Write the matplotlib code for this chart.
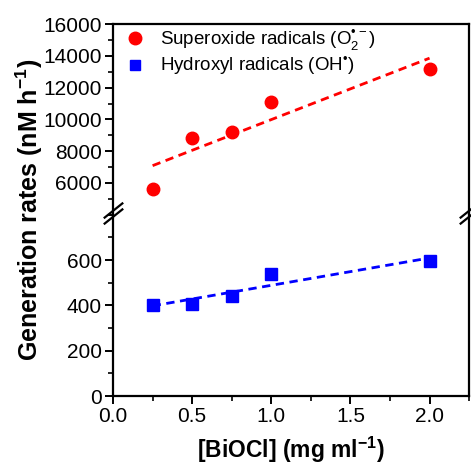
import numpy as np
import matplotlib
matplotlib.use("Agg")
import matplotlib.pyplot as plt
from matplotlib.ticker import MultipleLocator

plt.rcParams['font.family'] = ['Liberation Sans', 'DejaVu Sans']
plt.rcParams['mathtext.fontset'] = 'custom'
plt.rcParams['mathtext.rm'] = 'Liberation Sans'
plt.rcParams['mathtext.bf'] = 'Liberation Sans:bold'

# data
conc = [0.25, 0.5, 0.75, 1.0, 2.0]
superoxide = [5620, 8850, 9230, 11110, 13210]
hydroxyl = [400, 405, 442, 540, 595]
labels = ["Superoxide radicals (O$_2^{\u2022\u2212}$)", "Hydroxyl radicals (OH$^{\u2022}$)"]

fig = plt.figure(figsize=(4.71, 4.66), dpi=100)
gs = fig.add_gridspec(2, 1, height_ratios=[191, 182], hspace=0.0,
                      left=0.240, right=0.996, top=0.948, bottom=0.150)
ax_top = fig.add_subplot(gs[0])
ax_bot = fig.add_subplot(gs[1], sharex=ax_top)

xfit = np.array([0.25, 2.0])
p1 = np.polyfit(conc, superoxide, 1)
p2 = np.polyfit(conc, hydroxyl, 1)

ax_top.plot(conc, superoxide, 'o', color='#ff0000', ms=9, label=labels[0])
ax_top.plot(xfit, np.polyval(p1, xfit), '--', color='#ff0000', lw=2, dashes=(3, 2))
ax_top.plot([], [], 's', color='#0000ff', ms=7, label=labels[1])
ax_bot.plot(conc, hydroxyl, 's', color='#0000ff', ms=8)
ax_bot.plot(xfit, np.polyval(p2, xfit), '--', color='#0000ff', lw=2, dashes=(3, 2))

ax_top.set_ylim(4000, 16000)
ax_bot.set_ylim(0, 800)
ax_bot.set_xlim(0, 2.25)

ax_top.yaxis.set_minor_locator(MultipleLocator(1000))
ax_top.set_yticks([6000, 8000, 10000, 12000, 14000, 16000])
ax_bot.set_yticks([0, 200, 400, 600])
ax_bot.yaxis.set_minor_locator(MultipleLocator(100))
ax_bot.xaxis.set_major_locator(MultipleLocator(0.5))
ax_bot.xaxis.set_minor_locator(MultipleLocator(0.25))
ax_bot.xaxis.set_major_formatter(plt.FormatStrFormatter('%.1f'))

for ax in (ax_top, ax_bot):
    for s in ax.spines.values():
        s.set_linewidth(1.6)
    ax.tick_params(which='major', direction='out', length=6, width=1.4, labelsize=15,
                   top=False, right=False, pad=2)
    ax.tick_params(which='minor', direction='out', length=3.5, width=1.2,
                   top=False, right=False)

ax_top.spines['bottom'].set_visible(False)
ax_bot.spines['top'].set_visible(False)
ax_top.tick_params(axis='x', which='both', bottom=False, labelbottom=False)

# break marks on both sides
d = 0.8
kw = dict(marker=[(-1, -d), (1, d)], markersize=14, linestyle='none',
          color='k', mec='k', mew=1.6, clip_on=False)
ax_bot.plot([0, 1], [0.995, 0.995], transform=ax_bot.transAxes, **kw)
ax_bot.plot([0, 1], [1.025, 1.025], transform=ax_bot.transAxes, **kw)

ax_top.legend(loc='upper left', bbox_to_anchor=(0.01, 1.02), frameon=False, fontsize=13.5,
              handletextpad=0.7, borderaxespad=0.0, handlelength=1.2, labelspacing=0.12)

ax_bot.set_xlabel("[BiOCl] (mg ml$^{\\mathbf{-1}}$)", fontsize=16.5, fontweight='bold', labelpad=6)
fig.text(0.062, 0.55, "Generation rates (nM h$^{\\mathbf{-1}}$)", rotation=90,
         fontsize=18, fontweight='bold', ha='center', va='center')

fig.savefig("out.png", dpi=100)
